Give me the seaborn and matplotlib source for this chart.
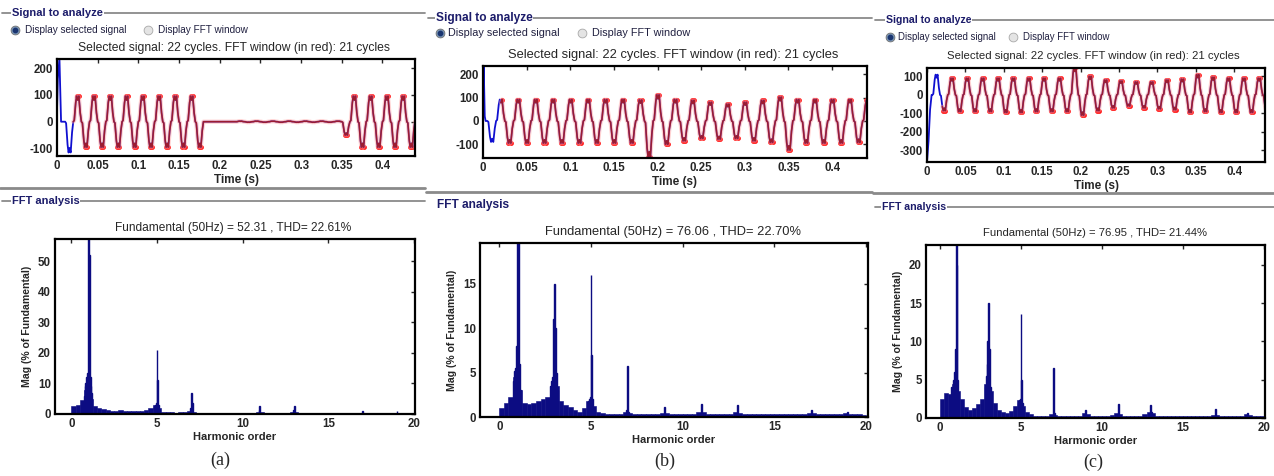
import numpy as np
import matplotlib
matplotlib.use("Agg")
import matplotlib.pyplot as plt
import seaborn as sns

W, H = 1274, 476

# ---- signal data: transient points, then peak value of every half cycle ----
A_TRANS_T = [0.0, 0.001, 0.003, 0.005, 0.008]
A_TRANS_V = [40, 160, 235, 0, 0]
A_T0 = 0.01
A_HALVES = [-115,
            95, -95, 95, -95, 95, -95, 95, -95, 95, -95, 95, -95, 95, -95, 95, -95,
            0, 0, 0, 0,
            2, -2, 2, -2, 2, -2, 2, -2, 2, -2, 2, -2, 2,
            -50,
            95, -95, 95, -95, 95, -95, 95, -95]

B_TRANS_T = [0.0, 0.0008, 0.002, 0.003]
B_TRANS_V = [0, 240, 20, 0]
B_T0 = 0.005
B_HALVES = [-90, 92, -95, 92, -95, 92, -95, 92, -95, 92, -95, 92, -95, 92, -95, 92,
            -95, 90, -155, 112, -100, 92, -85, 88, -75, 80, -78, 72, -75, 80,
            -85, 88, -92, 102, -125, 92, -95, 92, -95, 92, -95, 92, -92, 88]

C_TRANS_T = [0.0, 0.002, 0.004, 0.006]
C_TRANS_V = [-364, -250, -80, 0]
C_T0 = 0.007
C_HALVES = [110, -85, 90, -90, 90, -90, 90, -90, 90, -95, 90, -95, 90, -90, 90, -90,
            90, -90, 150, -110, 100, -85, 80, -70, 75, -60, 70, -70, 70, -75,
            80, -80, 85, -95, 110, -90, 95, -95, 90, -95, 90, -95, 90, -80]

# shape of one half cycle (fraction of half period, fraction of peak)
HALF_FRAC = [0.0, 0.12, 0.3, 0.42, 0.55, 0.68, 0.85]
HALF_SHAPE = [0.0, 0.05, 0.75, 1.0, 0.85, 1.0, 0.35]

# ---- FFT data: background level per 0.25 harmonic bin + narrow peaks ----
BG_STEP = 0.25
A_BG = [2.5, 3.0, 4.5, 8.0, 5.0, 2.5, 2.0, 1.6,
        1.3, 1.0, 0.9, 1.2, 1.0, 0.9, 1.0, 1.0,
        1.0, 1.2, 1.8, 2.8, 2.0, 0.8, 0.6, 0.5,
        0.4, 0.5, 0.8, 1.0, 0.8, 0.4, 0.3, 0.2,
        0.2, 0.2, 0.2, 0.2, 0.2, 0.2, 0.2, 0.2,
        0.2, 0.2, 0.3, 0.5, 0.5, 0.3, 0.2, 0.2,
        0.2, 0.2, 0.3, 0.5, 0.5, 0.3, 0.2, 0.2,
        0.2, 0.2, 0.2, 0.2, 0.2, 0.2, 0.2, 0.2,
        0.2, 0.2, 0.2, 0.4, 0.4, 0.2, 0.2, 0.2,
        0.2, 0.2, 0.2, 0.4, 0.4, 0.2, 0.2, 0.2]
A_PK_X = [0.75, 0.8, 0.85, 0.9, 0.95, 1.0, 1.05, 1.1, 1.15, 1.2,
          4.85, 4.9, 4.95, 5.0, 5.05, 5.1, 6.95, 7.0, 7.05,
          10.95, 11.0, 12.95, 13.0, 17.0, 19.0]
A_PK_H = [6.0, 9.0, 10.0, 12.0, 13.5, 60.0, 52.0, 12.0, 9.0, 7.0,
          2.5, 3.0, 3.5, 21.0, 11.0, 3.0, 2.0, 7.0, 3.5,
          1.2, 2.5, 1.2, 2.5, 1.0, 1.0]

B_BG = [1.0, 1.6, 2.3, 4.5, 3.0, 1.6, 1.5, 1.6,
        1.8, 2.0, 2.3, 3.5, 3.5, 1.8, 1.3, 1.1,
        0.8, 0.6, 1.0, 1.8, 1.2, 0.6, 0.4, 0.3,
        0.3, 0.3, 0.3, 0.6, 0.5, 0.3, 0.3, 0.3,
        0.3, 0.3, 0.3, 0.5, 0.5, 0.3, 0.3, 0.3,
        0.3, 0.3, 0.3, 0.6, 0.6, 0.3, 0.3, 0.3,
        0.3, 0.3, 0.3, 0.6, 0.5, 0.3, 0.3, 0.3,
        0.3, 0.3, 0.3, 0.3, 0.3, 0.3, 0.3, 0.3,
        0.3, 0.3, 0.3, 0.4, 0.4, 0.3, 0.3, 0.3,
        0.3, 0.3, 0.3, 0.4, 0.3, 0.3, 0.3, 0.2]
B_PK_X = [0.8, 0.85, 0.9, 0.95, 1.0, 1.05, 1.1, 1.15,
          2.8, 2.85, 2.9, 2.95, 3.0, 3.05, 3.1, 3.15,
          4.85, 4.9, 4.95, 5.0, 5.05, 5.1, 6.95, 7.0, 7.05,
          9.0, 11.0, 13.0, 17.0, 19.0]
B_PK_H = [4.0, 5.2, 5.5, 8.0, 22.0, 22.0, 6.0, 3.0,
          3.5, 4.0, 4.5, 11.0, 15.0, 10.0, 5.0, 3.0,
          1.8, 2.0, 2.3, 16.0, 7.0, 2.0, 0.8, 5.8, 0.6,
          1.1, 1.5, 1.3, 0.8, 0.6]

C_BG = [2.5, 3.3, 3.2, 4.5, 3.5, 2.5, 1.5, 1.0,
        1.3, 1.8, 2.5, 4.5, 3.5, 2.0, 1.0, 0.8,
        0.7, 0.9, 1.6, 2.4, 1.6, 0.8, 0.5, 0.3,
        0.3, 0.3, 0.3, 0.5, 0.4, 0.3, 0.3, 0.3,
        0.3, 0.3, 0.3, 0.6, 0.5, 0.3, 0.3, 0.3,
        0.3, 0.3, 0.4, 0.6, 0.5, 0.3, 0.3, 0.3,
        0.3, 0.3, 0.5, 0.8, 0.6, 0.3, 0.3, 0.3,
        0.3, 0.3, 0.3, 0.3, 0.3, 0.3, 0.3, 0.3,
        0.3, 0.3, 0.3, 0.4, 0.4, 0.3, 0.3, 0.3,
        0.3, 0.3, 0.3, 0.5, 0.4, 0.3, 0.2, 0.2]
C_PK_X = [0.7, 0.85, 0.9, 0.95, 1.0, 1.05, 1.1,
          2.8, 2.85, 2.9, 2.95, 3.0, 3.05, 3.1,
          4.85, 4.9, 4.95, 5.0, 5.05, 5.1, 7.0, 7.05,
          9.0, 11.0, 13.0, 13.05, 17.0, 19.0]
C_PK_H = [4.0, 5.0, 6.0, 9.0, 24.0, 20.0, 5.0,
          4.0, 5.5, 7.0, 10.0, 15.0, 9.0, 4.0,
          2.0, 2.3, 2.5, 13.6, 5.0, 2.0, 6.5, 0.6,
          1.0, 1.8, 1.7, 0.8, 1.2, 0.6]

SIG_TITLES = ["Selected signal: 22 cycles. FFT window (in red): 21 cycles"] * 3
FFT_TITLES = ["Fundamental (50Hz) = 52.31 , THD= 22.61%",
              "Fundamental (50Hz) = 76.06 , THD= 22.70%",
              "Fundamental (50Hz) = 76.95 , THD= 21.44%"]
CAPTIONS = ["(a)", "(b)", "(c)"]
TIME_TICKS = [0, 0.05, 0.1, 0.15, 0.2, 0.25, 0.3, 0.35, 0.4]
TIME_LABELS = ["0", "0.05", "0.1", "0.15", "0.2", "0.25", "0.3", "0.35", "0.4"]

NAVY = "#0c0c82"
BLUE = "#1010d0"
DARKRED = "#9c1c30"
HEAD = "#1c1c6a"


def build_signal(tt, tv, t0, halves):
    t = list(tt)
    v = list(tv)
    top = [False] * len(t)
    for k, amp in enumerate(halves):
        for f, s in zip(HALF_FRAC, HALF_SHAPE):
            t.append(t0 + (k + f) * 0.01)
            v.append(amp * s)
            top.append(s == 1.0 and abs(amp) > 20)
    t.append(t0 + len(halves) * 0.01)
    v.append(0.0)
    top.append(False)
    return np.array(t), np.array(v), np.array(top)


def rect(x0, y0, x1, y1):
    return [x0 / W, 1 - y1 / H, (x1 - x0) / W, (y1 - y0) / H]


def style_axes(ax):
    for sp in ax.spines.values():
        sp.set_visible(True)
        sp.set_color("black")
        sp.set_linewidth(1.6)
    ax.tick_params(direction="in", top=True, right=True, length=3, width=1,
                   labelsize=8.3, pad=3)
    for lab in ax.get_xticklabels() + ax.get_yticklabels():
        lab.set_fontweight("bold")


sns.set_style("white")
plt.rcParams["font.family"] = ["Liberation Sans", "DejaVu Sans"]
plt.rcParams["axes.unicode_minus"] = False

fig = plt.figure(figsize=(W / 100, H / 100), dpi=100)

# overlay in pixel coordinates for the GUI decorations
ov = fig.add_axes([0, 0, 1, 1], zorder=-1)
ov.set_xlim(0, W)
ov.set_ylim(H, 0)
ov.axis("off")

signals = [(A_TRANS_T, A_TRANS_V, A_T0, A_HALVES),
           (B_TRANS_T, B_TRANS_V, B_T0, B_HALVES),
           (C_TRANS_T, C_TRANS_V, C_T0, C_HALVES)]
spectra = [(A_BG, A_PK_X, A_PK_H), (B_BG, B_PK_X, B_PK_H), (C_BG, C_PK_X, C_PK_H)]

sig_rects = [rect(57, 59, 415, 156), rect(483, 66, 867, 158), rect(927, 68, 1265, 162)]
sig_ylims = [(-128, 234), (-159, 236), (-364, 146)]
sig_yticks = [[-100, 0, 100, 200], [-100, 0, 100, 200], [-300, -200, -100, 0, 100]]
fft_rects = [rect(55, 239, 415, 414), rect(480, 243, 868, 417), rect(926, 245, 1265, 418)]
fft_ylims = [(0, 57.2), (0, 19.6), (0, 22.6)]
fft_yticks = [[0, 10, 20, 30, 40, 50], [0, 5, 10, 15], [0, 5, 10, 15, 20]]
fft_xlims = [(-0.95, 20.05), (-1.05, 20.1), (-0.86, 20.06)]

# panel decoration positions (pixels) and text sizes
panel_x = [(2, 425), (428, 872), (875, 1274)]
head_y = [13, 18, 20]
head_tx = [12, 436, 886]
head_fs = [8.0, 8.6, 7.6]
radio_y = [30, 33, 37]
radio_x = [(15, 25, 148, 158), (440, 448, 582, 592), (890, 898, 1013, 1023)]
radio_fs = [7.2, 7.8, 6.9]
sig_title_xy = [(234, 48), (673, 55), (1093, 56)]
sig_title_fs = [8.7, 9.3, 8.2]
sep_y = [188, 192, 193]
fft_head_y = [201, 205, 207]
fft_head_tx = [12, 437, 882]
fft_head_line = [True, False, True]
fft_title_xy = [(233, 228), (673, 232), (1095, 233)]
fft_title_fs = [8.6, 9.3, 8.1]
cap_xy = [(220, 460), (665, 461), (1093, 462)]

for i in range(3):
    x0, x1 = panel_x[i]
    # "Signal to analyze" group header
    ov.plot([x0, x1], [head_y[i], head_y[i]], color="#8a8a8a", lw=1.3)
    ov.text(head_tx[i], head_y[i], "Signal to analyze", fontsize=head_fs[i],
            fontweight="bold", color=HEAD, va="center", ha="left",
            bbox=dict(facecolor="white", edgecolor="none", pad=0.5))
    # radio buttons
    c1, t1, c2, t2 = radio_x[i]
    ov.scatter([c1], [radio_y[i]], s=40, color="#7b98b8", edgecolor="#707070", lw=0.6)
    ov.scatter([c1], [radio_y[i]], s=10, color="#1a3570")
    ov.scatter([c2], [radio_y[i]], s=40, color="#e4e4e4", edgecolor="#a8a8a8", lw=0.6)
    ov.text(t1, radio_y[i], "Display selected signal", fontsize=radio_fs[i],
            color="#202040", va="center")
    ov.text(t2, radio_y[i], "Display FFT window", fontsize=radio_fs[i],
            color="#202040", va="center")
    ov.text(*sig_title_xy[i], SIG_TITLES[i], fontsize=sig_title_fs[i],
            ha="center", va="center")
    # separator and FFT header
    ov.plot([x0 - 2, x1], [sep_y[i], sep_y[i]], color="#8a8a8a", lw=2)
    if fft_head_line[i]:
        ov.plot([x0, x1], [fft_head_y[i], fft_head_y[i]], color="#8a8a8a", lw=1.3)
    ov.text(fft_head_tx[i], fft_head_y[i], "FFT analysis", fontsize=head_fs[i],
            fontweight="bold", color=HEAD, va="center", ha="left",
            bbox=dict(facecolor="white", edgecolor="none", pad=0.5))
    ov.text(*fft_title_xy[i], FFT_TITLES[i], fontsize=fft_title_fs[i],
            ha="center", va="center")
    ov.text(*cap_xy[i], CAPTIONS[i], fontsize=13, family="Liberation Serif",
            ha="center", va="center")

    # ---- signal axes ----
    t, v, top = build_signal(*signals[i])
    ax = fig.add_axes(sig_rects[i])
    sns.lineplot(x=t, y=v, color=BLUE, lw=1.3, sort=False, estimator=None, ax=ax)
    win = t >= 0.02
    sns.lineplot(x=t[win], y=v[win], color="#ff9a9a", lw=3, alpha=0.45,
                 sort=False, estimator=None, ax=ax)
    sns.lineplot(x=t[win], y=v[win], color=DARKRED, lw=1.1, sort=False,
                 estimator=None, ax=ax)
    pk = win & top
    sns.scatterplot(x=t[pk], y=v[pk], color="#ff1818", s=12, linewidth=0, ax=ax)
    ax.set_xlim(0, 0.44)
    ax.set_ylim(*sig_ylims[i])
    ax.set_xticks(TIME_TICKS)
    ax.set_xticklabels(TIME_LABELS)
    ax.set_yticks(sig_yticks[i])
    ax.set_xlabel("Time (s)", fontsize=8.5, fontweight="bold", labelpad=1)
    ax.set_ylabel("")
    style_axes(ax)

    # ---- FFT axes ----
    bg, pk_x, pk_h = spectra[i]
    bg_x = [(j + 0.5) * BG_STEP for j in range(len(bg))]
    ax2 = fig.add_axes(fft_rects[i])
    sns.histplot(x=bg_x, weights=bg, binwidth=BG_STEP, binrange=(0, 20),
                 color=NAVY, alpha=1, edgecolor=NAVY, linewidth=0.4, ax=ax2)
    sns.histplot(x=pk_x, weights=pk_h, binwidth=0.05, binrange=(-0.025, 20.025),
                 color=NAVY, alpha=1, edgecolor=NAVY, linewidth=1.0, ax=ax2)
    ax2.set_xlim(*fft_xlims[i])
    ax2.set_ylim(*fft_ylims[i])
    ax2.set_xticks([0, 5, 10, 15, 20])
    ax2.set_yticks(fft_yticks[i])
    ax2.set_xlabel("Harmonic order", fontsize=8, fontweight="bold", labelpad=1)
    ax2.set_ylabel("Mag (% of Fundamental)", fontsize=7.6, fontweight="bold",
                   labelpad=4)
    style_axes(ax2)

fig.savefig("out.png", dpi=100)
